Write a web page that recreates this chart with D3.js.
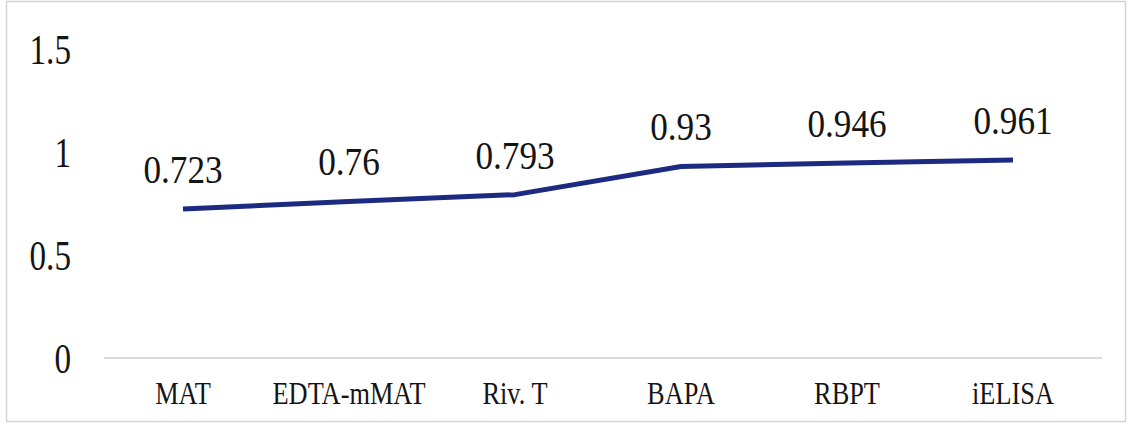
<!DOCTYPE html>
<html>
<head>
<meta charset="utf-8">
<script src="https://cdn.jsdelivr.net/npm/d3@7"></script>
<style>
  html, body { margin: 0; padding: 0; background: #ffffff; }
  svg { display: block; }
  text { font-family: "Liberation Serif", "Times New Roman", serif; fill: #141414; }
</style>
</head>
<body>
<svg id="chart" width="1128" height="428"></svg>
<script>
// Agreement of each test, plotted in order
const categories = ["MAT", "EDTA-mMAT", "Riv. T", "BAPA", "RBPT", "iELISA"];
const values = [0.723, 0.76, 0.793, 0.93, 0.946, 0.961];
const yTicks = [0, 0.5, 1, 1.5];
const yTickLabels = ["0", "0.5", "1", "1.5"];

const svg = d3.select("#chart");
const W = 1128;

// outer frame
svg.append("rect")
  .attr("x", 6.5).attr("y", 1.5)
  .attr("width", W - 9).attr("height", 420)
  .attr("fill", "#ffffff")
  .attr("stroke", "#d4d4d4")
  .attr("stroke-width", 1.5);

const x = d3.scaleBand().domain(categories).range([100, 1096]);
const y = d3.scaleLinear().domain([0, 1.5]).range([358, 49]);

// zero baseline
svg.append("line")
  .attr("x1", 104).attr("x2", 1102)
  .attr("y1", y(0)).attr("y2", y(0))
  .attr("stroke", "#cfcfcf")
  .attr("stroke-width", 1.5);

// y axis labels
const yAxis = d3.axisLeft(y)
  .tickValues(yTicks)
  .tickFormat((d, i) => yTickLabels[i])
  .tickSize(0);
const gy = svg.append("g").attr("transform", "translate(100,0)").call(yAxis);
gy.select(".domain").remove();
gy.selectAll("text")
  .attr("x", 0).attr("dy", "0.34em")
  .attr("transform", "translate(-29,0) scale(0.79,1)")
  .style("font-family", '"Liberation Serif", serif')
  .style("font-size", "42px")
  .attr("fill", "#141414");

// x axis labels
const xAxis = d3.axisBottom(x).tickSize(0);
const gx = svg.append("g").attr("transform", `translate(0,${y(0)})`).call(xAxis);
gx.select(".domain").remove();
gx.selectAll("text")
  .attr("y", 0).attr("dy", 0)
  .attr("transform", "translate(0,46) scale(0.85,1)")
  .style("font-family", '"Liberation Serif", serif')
  .style("font-size", "31px")
  .attr("fill", "#141414");

// series line
const pts = categories.map((c, i) => ({ c, v: values[i] }));
const line = d3.line()
  .x(d => x(d.c) + x.bandwidth() / 2)
  .y(d => y(d.v));

svg.append("path")
  .datum(pts)
  .attr("d", line)
  .attr("fill", "none")
  .attr("stroke", "#1d2a82")
  .attr("stroke-width", 5)
  .attr("stroke-linejoin", "round");

// value labels
svg.append("g").selectAll("text")
  .data(pts)
  .join("text")
  .attr("text-anchor", "middle")
  .attr("transform", d => `translate(${x(d.c) + x.bandwidth() / 2},${y(d.v) - 26}) scale(0.88,1)`)
  .style("font-size", "40px")
  .text(d => String(d.v));
</script>
</body>
</html>
